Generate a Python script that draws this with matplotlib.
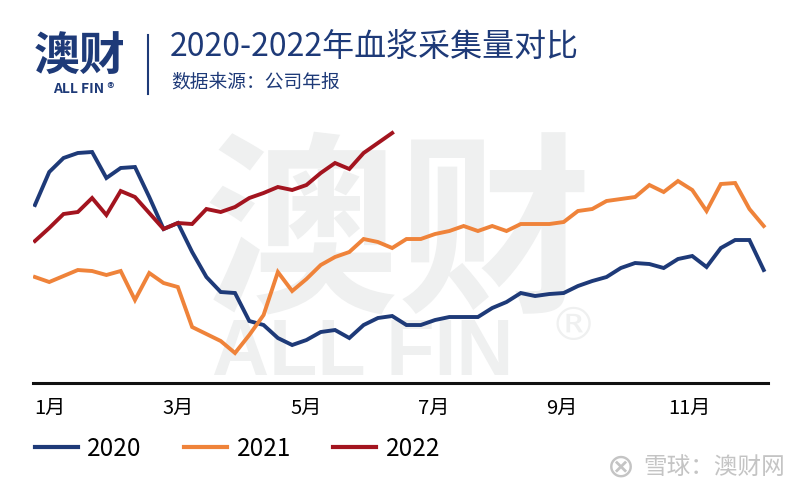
import matplotlib
matplotlib.use("Agg")
import matplotlib.pyplot as plt
import numpy as np
from matplotlib.lines import Line2D

plt.rcParams['font.family'] = ['Noto Sans CJK SC', 'DejaVu Sans']

# weekly plasma collection (relative units)
weeks = np.arange(52)
v2020 = [17.8, 21.1, 22.5, 23.0, 23.1, 20.5, 21.5, 21.6, 18.6, 15.4, 16.0, 13.1, 10.6, 9.1,
         9.0, 6.2, 5.8, 4.5, 3.8, 4.3, 5.1, 5.3, 4.5, 5.8, 6.5, 6.7, 5.8, 5.8, 6.3, 6.6,
         6.6, 6.6, 7.5, 8.1, 9.0, 8.7, 8.9, 9.0, 9.7, 10.2, 10.6, 11.5, 12.0, 11.9, 11.5,
         12.4, 12.7, 11.6, 13.5, 14.3, 14.3, 11.3]
v2021 = [10.6, 10.1, 10.7, 11.3, 11.2, 10.8, 11.2, 8.3, 11.0, 10.0, 9.6, 5.6, 4.9, 4.2,
         3.0, 4.8, 6.8, 11.1, 9.2, 10.4, 11.8, 12.6, 13.1, 14.4, 14.1, 13.5, 14.4, 14.4,
         14.9, 15.2, 15.7, 15.2, 15.7, 15.2, 15.9, 15.9, 15.9, 16.1, 17.2, 17.4, 18.2,
         18.4, 18.6, 19.8, 19.1, 20.2, 19.3, 17.2, 19.9, 20.0, 17.4, 15.7]
v2022 = [14.2, 15.5, 16.9, 17.1, 18.5, 16.8, 19.2, 18.6, 17.0, 15.4, 16.0, 15.9, 17.4,
         17.1, 17.6, 18.5, 19.0, 19.6, 19.3, 19.8, 21.0, 22.0, 21.4, 23.0, 24.0, 25.0]
years = ['2020', '2021', '2022']
colors = ['#1e3a78', '#ef833a', '#a3141f']
month_labels = ['1月', '3月', '5月', '7月', '9月', '11月']

navy = '#1e3a78'
wm = '#eff0f0'
fig = plt.figure(figsize=(8, 4.92), dpi=100)
ax = fig.add_axes([0.041, 0.2215, 0.919, 0.5285])

# watermark
ax.text(0.232, 0.55, '澳财', transform=ax.transAxes, fontsize=140, fontweight='bold',
        color=wm, ha='left', va='center', zorder=0)
ax.text(0.244, 0.031, 'ALL FIN', transform=ax.transAxes, fontsize=57, fontweight='bold',
        color=wm, ha='left', va='baseline', zorder=0, family='Liberation Sans')
ax.text(0.735, 0.215, '®', transform=ax.transAxes, fontsize=34,
        color=wm, ha='center', va='center', zorder=0, family='DejaVu Sans')

for vals, yr, c in zip([v2020, v2021, v2022], years, colors):
    ax.plot(weeks[:len(vals)], vals, color=c, lw=2.8, label=yr, zorder=3,
            solid_joinstyle='miter')

ax.set_xlim(-0.15, 51.3)
ax.set_ylim(0, 26)
ax.set_xticks(np.arange(6) * 8.95 + 1.05)
ax.set_xticklabels(month_labels, fontsize=14.5)
ax.tick_params(axis='x', length=0, pad=11)
ax.set_yticks([])
for s in ['top', 'right', 'left']:
    ax.spines[s].set_visible(False)
ax.spines['bottom'].set_linewidth(2.2)
ax.spines['bottom'].set_color('#111111')

# legend
handles = [Line2D([], [], color=c, lw=3) for c in colors]
fig.legend(handles, years, ncol=3, loc='center left', bbox_to_anchor=(35 / 800, 1 - 449 / 492),
           frameon=False, fontsize=17.5, handlelength=1.75, handletextpad=0.4,
           columnspacing=1.75, borderpad=0, borderaxespad=0)

# header
fig.text(34 / 800, 1 - 57 / 492, '澳财', fontsize=33, fontweight='bold', color=navy,
         ha='left', va='center')
fig.text(84 / 800, 1 - 89 / 492, 'ALL FIN ®', fontsize=10, fontweight='bold', color=navy,
         ha='center', va='center')
fig.add_artist(Line2D([148 / 800, 148 / 800], [1 - 35 / 492, 1 - 94 / 492], color=navy, lw=1.5))
fig.text(170 / 800, 1 - 47 / 492, '2020-2022年血浆采集量对比', fontsize=23, color=navy,
         ha='left', va='center')
fig.text(171 / 800, 1 - 82 / 492, '数据来源：公司年报', fontsize=13.5, color=navy,
         ha='left', va='center')

# footer mark
fig.text(621 / 800, 1 - 467 / 492, '⊗', fontsize=24, color='#c4c4c4',
         ha='center', va='center', family='DejaVu Sans')
fig.text(785 / 800, 1 - 467 / 492, '雪球：澳财网', fontsize=17, color='#c4c4c4',
         ha='right', va='center')

plt.savefig('out.png', dpi=100)
